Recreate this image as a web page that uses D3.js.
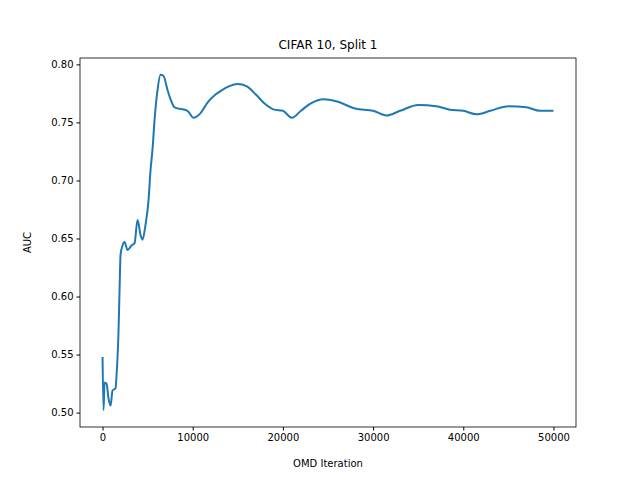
<!DOCTYPE html>
<html><head><meta charset="utf-8">
<script src="https://cdn.jsdelivr.net/npm/d3@7"></script>
<style>body{margin:0;background:#fff}text{font-family:"DejaVu Sans",sans-serif}</style>
</head><body><svg id="c" width="640" height="480"></svg>
<script>
// OMD iteration vs AUC
var iters = [0,111,222,444,665,887,1109,1441,1552,1774,1885,1996,2218,2439,2772,3215,3548,3880,4213,4435,4767,5100,5322,5543,5765,6098,6430,6763,7206,7539,7982,9424,10089,10865,11640,12527,13082,14000,15000,16000,17000,18000,19000,20000,21000,22000,23000,24500,26000,28000,30000,31500,33000,35000,37000,38500,40000,41500,43000,45000,47000,48500,50000];
var auc = [0.548,0.502,0.526,0.525,0.512,0.506,0.519,0.521,0.532,0.571,0.605,0.636,0.644,0.647,0.640,0.644,0.646,0.666,0.653,0.649,0.662,0.683,0.709,0.727,0.752,0.778,0.791,0.790,0.778,0.770,0.763,0.760,0.754,0.758,0.767,0.774,0.777,0.781,0.783,0.781,0.774,0.766,0.761,0.760,0.754,0.760,0.766,0.770,0.768,0.762,0.760,0.756,0.760,0.765,0.764,0.761,0.760,0.757,0.760,0.764,0.763,0.760,0.760];
var xTicks = [0,10000,20000,30000,40000,50000];
var yTicks = [0.50,0.55,0.60,0.65,0.70,0.75,0.80];

var svg = d3.select("#c");
var L=80,R=576,T=58,B=427;
var x = d3.scaleLinear().domain([-2500,52500]).range([L,R]);
var y = d3.scaleLinear().domain([0.4876,0.8055]).range([B,T]);

svg.append("path").datum(iters.map((d,i)=>[d,auc[i]]))
  .attr("fill","none").attr("stroke","#1f77b4").attr("stroke-width",2)
  .attr("d", d3.line().x(d=>x(d[0])).y(d=>y(d[1])).curve(d3.curveMonotoneX));

svg.append("g").attr("transform","translate(0,"+B+")")
  .call(d3.axisBottom(x).tickValues(xTicks).tickFormat(d3.format("d")).tickSizeOuter(0).tickSize(3.5))
  .call(g=>g.selectAll("text").attr("font-size",10).attr("fill","#000"));
svg.append("g").attr("transform","translate("+L+",0)")
  .call(d3.axisLeft(y).tickValues(yTicks).tickFormat(d3.format(".2f")).tickSizeOuter(0).tickSize(3.5))
  .call(g=>g.selectAll("text").attr("font-size",10).attr("fill","#000"));
svg.selectAll(".domain").remove();
svg.append("rect").attr("x",L).attr("y",T).attr("width",R-L).attr("height",B-T)
  .attr("fill","none").attr("stroke","#000").attr("stroke-width",0.8);

svg.append("text").attr("x",(L+R)/2).attr("y",49).attr("text-anchor","middle").attr("font-size",12).text("CIFAR 10, Split 1");
svg.append("text").attr("x",(L+R)/2).attr("y",467).attr("text-anchor","middle").attr("font-size",10).text("OMD Iteration");
svg.append("text").attr("transform","translate(31,"+((T+B)/2)+") rotate(-90)").attr("text-anchor","middle").attr("font-size",10).text("AUC");
</script></body></html>
